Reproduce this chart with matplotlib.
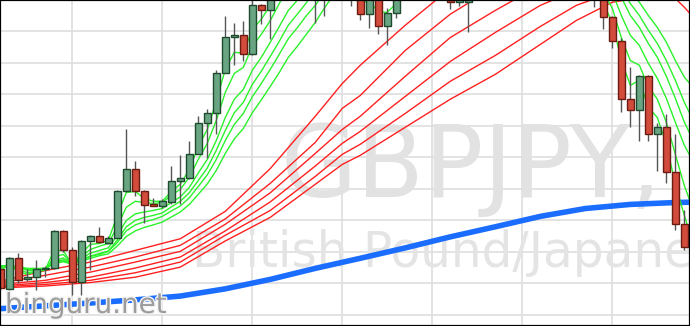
import matplotlib
matplotlib.use("Agg")
import matplotlib.pyplot as plt
import matplotlib.patheffects as pe

# ---------------- candle data (GBPJPY, price) ----------------
opens = [141.47, 140.81, 141.82, 141.15, 141.20, 141.46, 141.49, 142.68, 142.07, 141.06,
         142.35, 142.52, 142.30, 142.45, 143.95, 144.64, 143.95, 143.51, 143.47, 143.58,
         144.26, 144.36, 145.11, 146.11, 146.42, 147.69, 148.81, 148.88, 148.27, 149.83,
         149.69, 150.24, 150.95, 151.40, 151.10, 151.60, 150.60, 151.26, 151.70, 150.90,
         150.31, 149.57, 150.09, 149.16, 149.60, 150.15, 150.80, 151.30, 151.00, 151.40,
         150.30, 149.94, 149.95, 150.15, 150.60, 151.10, 150.80, 151.40, 151.70, 151.30,
         151.90, 151.60, 151.10, 151.40, 150.80, 150.50, 150.37, 150.09, 149.47, 148.71,
         146.87, 146.52, 147.60, 145.76, 145.96, 144.54, 142.90]
highs = [141.54, 141.83, 141.96, 141.46, 141.73, 141.57, 142.71, 142.71, 142.16, 142.37,
         142.53, 142.78, 142.52, 143.96, 145.92, 144.88, 143.96, 143.72, 143.67, 144.72,
         145.07, 145.51, 146.31, 146.53, 147.77, 149.48, 149.26, 149.32, 150.15, 149.86,
         150.47, 151.10, 151.70, 151.60, 151.90, 151.80, 151.60, 152.00, 151.90, 151.10,
         150.50, 150.20, 150.20, 149.74, 150.30, 151.00, 151.60, 151.50, 151.60, 151.60,
         150.50, 150.25, 150.30, 150.80, 151.30, 151.30, 151.60, 151.95, 151.90, 152.15,
         152.05, 151.75, 151.65, 151.50, 150.95, 150.60, 150.47, 150.15, 149.48, 148.78,
         147.87, 147.61, 147.61, 146.09, 146.37, 145.76, 143.32]
lows = [140.78, 140.73, 141.03, 141.07, 140.80, 141.22, 141.46, 142.00, 140.62, 140.62,
        141.42, 142.30, 142.26, 142.43, 143.91, 143.77, 142.93, 143.46, 143.41, 143.53,
        143.51, 144.33, 145.10, 144.98, 145.76, 147.69, 147.95, 148.07, 148.24, 149.25,
        148.77, 150.08, 150.60, 150.50, 150.30, 149.27, 149.48, 150.24, 150.15, 149.80,
        149.38, 149.11, 148.92, 148.56, 149.43, 150.05, 150.50, 150.60, 150.70, 150.15,
        149.73, 149.80, 148.98, 150.05, 150.45, 150.55, 150.60, 151.20, 151.10, 151.10,
        151.30, 150.95, 150.90, 150.60, 150.25, 150.05, 149.77, 149.09, 148.48, 146.44,
        145.97, 145.52, 145.52, 144.57, 144.19, 142.69, 142.05]
closes = [140.87, 141.82, 141.10, 141.22, 141.47, 141.50, 142.68, 142.06, 141.06, 142.36,
          142.52, 142.33, 142.44, 143.94, 144.64, 143.93, 143.50, 143.47, 143.61, 144.26,
          144.36, 145.12, 146.11, 146.42, 147.69, 148.81, 148.88, 148.27, 149.83, 149.69,
          150.24, 150.95, 151.40, 151.10, 151.60, 150.63, 151.26, 151.70, 150.90, 150.30,
          149.57, 150.09, 149.16, 149.60, 150.15, 150.80, 151.30, 151.00, 151.40, 150.30,
          149.94, 150.15, 150.15, 150.60, 151.10, 150.80, 151.40, 151.70, 151.30, 151.90,
          151.60, 151.10, 151.40, 150.80, 150.50, 150.15, 150.09, 149.47, 148.71, 146.87,
          146.52, 147.60, 145.76, 145.96, 144.54, 142.90, 142.16]

# ---------------- long moving average (blue) ----------------
blue_x = [0, 5, 10, 15, 20, 25, 30, 35, 40, 45, 50, 55, 60, 65, 70, 75, 76.6]
blue_y = [140.20, 140.29, 140.38, 140.48, 140.60, 140.83, 141.13, 141.48, 141.80, 142.13,
          142.48, 142.80, 143.13, 143.38, 143.51, 143.57, 143.58]

# ---------------- long-term group (red) ----------------
red_x = [0, 5, 10, 15, 20, 25, 30, 35, 38, 40, 45, 50, 55, 60, 64, 68, 72, 75, 76, 76.6]
red_1 = [141.07, 141.41, 141.68, 142.05, 142.42, 143.29, 144.65, 146.31, 147.35, 147.93,
         149.20, 150.37, 151.26, 151.90, 152.28, 152.21, 151.10, 150.05, 149.77, 149.58]
red_2 = [141.02, 141.26, 141.52, 141.84, 142.21, 143.05, 144.18, 145.48, 146.56, 146.97,
         148.40, 149.55, 150.43, 151.10, 151.42, 151.58, 151.42, 151.10, 150.94, 150.88]
red_3 = [140.97, 141.10, 141.36, 141.68, 142.02, 142.88, 143.88, 145.13, 145.89, 146.31,
         147.58, 148.81, 149.67, 150.47, 150.88, 151.10, 151.10, 150.94, 150.88, 150.85]
red_4 = [140.92, 141.03, 141.20, 141.49, 141.84, 142.67, 143.59, 144.73, 145.45, 145.83,
         146.94, 148.05, 148.97, 149.83, 150.31, 150.63, 150.69, 150.63, 150.56, 150.53]
red_5 = [140.89, 140.97, 141.10, 141.34, 141.68, 142.53, 143.32, 144.40, 145.10, 145.42,
         146.40, 147.42, 148.24, 149.16, 149.83, 150.24, 150.37, 150.37, 150.31, 150.31]
red_6 = [140.86, 140.92, 141.03, 141.20, 141.52, 142.35, 143.10, 144.15, 144.78, 145.07,
         145.96, 146.85, 147.64, 148.59, 149.35, 149.93, 150.12, 150.12, 150.09, 150.09]

# ---------------- short-term group (green), rising part ----------------
green_1a = [141.41, 141.60, 141.38, 141.29, 141.38, 141.45, 142.05, 142.05, 141.57, 141.96,
            142.24, 142.27, 142.37, 143.16, 143.89, 143.92, 143.70, 143.61, 143.61, 143.92,
            144.15, 144.62, 145.35, 145.89, 146.78, 147.80, 148.34, 148.31, 149.07, 149.39,
            149.83, 150.37, 150.94]
green_2a = [141.48, 141.61, 141.42, 141.35, 141.38, 141.42, 141.86, 141.92, 141.64, 141.86,
            142.08, 142.18, 142.27, 142.81, 143.42, 143.61, 143.57, 143.54, 143.57, 143.80,
            143.99, 144.37, 144.94, 145.45, 146.18, 147.07, 147.67, 147.86, 148.53, 148.91,
            149.35, 149.89, 150.40]
green_3a = [141.51, 141.57, 141.48, 141.42, 141.42, 141.45, 141.72, 141.81, 141.64, 141.80,
            141.96, 142.05, 142.13, 142.53, 143.00, 143.21, 143.27, 143.32, 143.38, 143.57,
            143.75, 144.05, 144.51, 144.94, 145.54, 146.27, 146.85, 147.16, 147.77, 148.18,
            148.66, 149.16, 149.67, 149.99, 150.47]
green_4a = [141.53, 141.57, 141.49, 141.45, 141.45, 141.46, 141.68, 141.75, 141.62, 141.76,
            141.87, 141.95, 142.03, 142.38, 142.80, 143.00, 143.10, 143.16, 143.24, 143.43,
            143.61, 143.88, 144.27, 144.67, 145.23, 145.86, 146.42, 146.75, 147.32, 147.74,
            148.21, 148.69, 149.20, 149.55, 149.91, 150.31]
green_5a = [141.54, 141.59, 141.51, 141.46, 141.46, 141.48, 141.65, 141.72, 141.62, 141.73,
            141.86, 141.92, 142.02, 142.30, 142.67, 142.86, 142.96, 143.03, 143.13, 143.30,
            143.46, 143.72, 144.08, 144.45, 144.94, 145.54, 146.05, 146.40, 146.93, 147.35,
            147.80, 148.28, 148.77, 149.12, 149.50, 149.83, 150.24]
green_6a = [141.56, 141.57, 141.53, 141.48, 141.48, 141.48, 141.64, 141.69, 141.61, 141.70,
            141.80, 141.88, 141.94, 142.19, 142.49, 142.67, 142.78, 142.86, 142.95, 143.11,
            143.27, 143.51, 143.83, 144.16, 144.59, 145.13, 145.59, 145.92, 146.42, 146.83,
            147.26, 147.70, 148.18, 148.53, 148.91, 149.29, 149.74, 150.15]

# fast line dip in the middle
green_1m_x = [39, 40, 41, 42, 43, 44, 45]
green_1m = [150.24, 149.89, 149.99, 149.61, 149.61, 149.89, 150.31]

# ---------------- short-term group (green), falling part ----------------
green_1b_x = [66, 67, 68, 69, 70, 71, 72, 73, 74, 75, 76, 76.6]
green_1b = [150.24, 149.89, 149.29, 148.08, 147.29, 147.45, 146.59, 146.27, 145.42, 144.15, 143.16, 142.62]
green_2b_x = [66, 67, 68, 69, 70, 71, 72, 73, 74, 75, 76, 76.6]
green_2b = [150.63, 150.24, 149.74, 148.81, 148.08, 147.93, 147.26, 146.85, 146.12, 145.10, 144.11, 143.64]
green_3b_x = [66, 67, 68, 69, 70, 71, 72, 73, 74, 75, 76, 76.6]
green_3b = [151.10, 150.69, 150.24, 149.51, 148.88, 148.56, 147.99, 147.51, 146.88, 146.12, 145.39, 145.07]
green_4b_x = [67, 68, 69, 70, 71, 72, 73, 74, 75, 76, 76.6]
green_4b = [151.10, 150.69, 150.09, 149.51, 149.13, 148.62, 148.18, 147.58, 146.88, 146.12, 145.77]
green_5b_x = [68, 69, 70, 71, 72, 73, 74, 75, 76, 76.6]
green_5b = [150.94, 150.37, 149.89, 149.51, 149.04, 148.62, 148.08, 147.45, 146.75, 146.40]
green_6b_x = [69, 70, 71, 72, 73, 74, 75, 76, 76.6]
green_6b = [150.69, 150.24, 149.93, 149.51, 149.13, 148.66, 148.08, 147.55, 147.35]

symbol = "GBPJPY,"
symbol_name = "British Pound/Japanese Yen"
site = "binguru.net"

# ---------------- figure ----------------
fig = plt.figure(figsize=(6.9, 3.26), dpi=100)
ax = fig.add_axes([0, 0, 1, 1])
ax.set_xlim(-0.033, 76.63)
ax.set_ylim(139.65, 150.0)

ax.set_xticks(range(8, 77, 10))
ax.set_yticks(range(140, 150))
ax.grid(True, color="#dedede", linewidth=1.2, zorder=0)
ax.tick_params(length=0, labelleft=False, labelbottom=False)
ax.set_axisbelow(True)
for s in ax.spines.values():
    s.set_color("black")
    s.set_linewidth(1.6)
    s.set_zorder(20)

# watermark
ax.text(280 / 690, 1 - 197 / 326, symbol, transform=ax.transAxes, fontsize=71,
        family="DejaVu Sans", color="#e2e2e2", ha="left", va="baseline", zorder=1)
ax.text(192 / 690, 1 - 267 / 326, symbol_name, transform=ax.transAxes, fontsize=35,
        family="DejaVu Sans", color="#e4e4e4", ha="left", va="baseline", zorder=1,
        clip_on=True)

# moving averages
ax.plot(blue_x, blue_y, color="#1a6dff", linewidth=4.0, zorder=3, solid_capstyle="round")
for r in (red_1, red_2, red_3, red_4, red_5, red_6):
    ax.plot(red_x, r, color="#ff2020", linewidth=1.0, zorder=4)
for g in (green_1a, green_2a, green_3a, green_4a, green_5a, green_6a):
    ax.plot(range(len(g)), g, color="#2af22a", linewidth=1.0, zorder=5)
ax.plot(green_1m_x, green_1m, color="#2af22a", linewidth=1.0, zorder=5)
for gx, g in ((green_1b_x, green_1b), (green_2b_x, green_2b), (green_3b_x, green_3b),
              (green_4b_x, green_4b), (green_5b_x, green_5b), (green_6b_x, green_6b)):
    ax.plot(gx, g, color="#2af22a", linewidth=1.0, zorder=5)

# candles
idx = list(range(len(opens)))
ax.vlines(idx, lows, highs, color="#555555", linewidth=1.0, zorder=6)
for i, (o, c) in enumerate(zip(opens, closes)):
    up = c >= o
    ax.bar(i, abs(c - o), bottom=min(o, c), width=0.74,
           color="#6aa583" if up else "#d24b3b",
           edgecolor="#1e4a2e" if up else "#6a1c12", linewidth=1.0, zorder=7)

# site label
ax.text(5 / 690, 1 - 313 / 326, site, transform=ax.transAxes, fontsize=20,
        family="DejaVu Sans", color="#9c9c9c", ha="left", va="baseline", zorder=15,
        path_effects=[pe.withStroke(linewidth=2, foreground="#f4f4f4")])

fig.savefig("out.png", dpi=100)
